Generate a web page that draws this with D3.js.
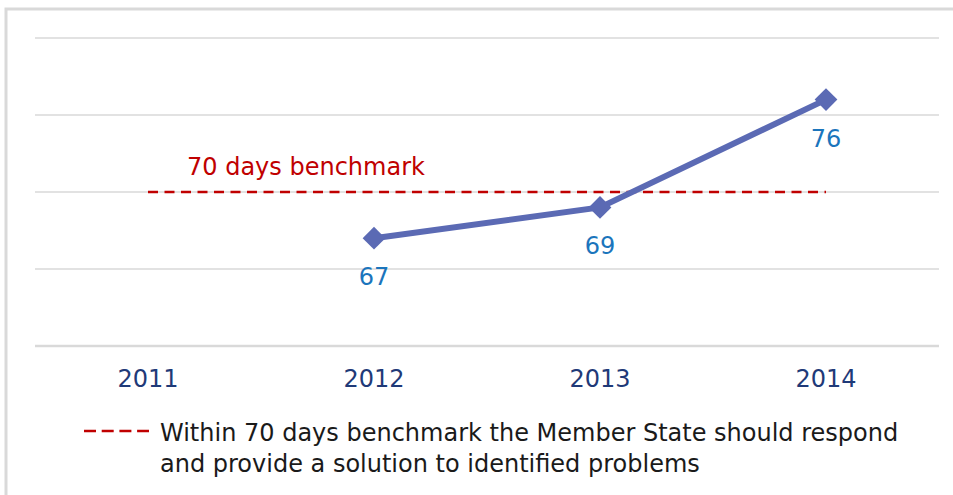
<!DOCTYPE html>
<html>
<head>
<meta charset="utf-8">
<script src="https://cdn.jsdelivr.net/npm/d3@7"></script>
<style>
  body { margin: 0; background: #fff; }
  svg { font-family: "DejaVu Sans", Verdana, sans-serif; }
</style>
</head>
<body>
<div id="chart"></div>
<script>
var years = ["2011", "2012", "2013", "2014"];
var values = [null, 67, 69, 76];
var benchmark = 70;
var benchmarkLabel = "70 days benchmark";
var legendLines = ["Within 70 days benchmark the Member State should respond",
                   "and provide a solution to identified problems"];
var gridTicks = [60, 65, 70, 75, 80];

var W = 953, H = 495;

var svg = d3.select("#chart").append("svg")
    .attr("width", W)
    .attr("height", H);

// outer frame (runs off right and bottom)
svg.append("rect")
    .attr("x", 6).attr("y", 9)
    .attr("width", W + 10).attr("height", H + 10)
    .attr("fill", "none")
    .attr("stroke", "#d9d9d9")
    .attr("stroke-width", 3);

var x = d3.scaleBand().domain(years).range([35, 939]);
var y = d3.scaleLinear().domain([60, 80]).range([346, 38]);
var cx = function(d) { return x(d) + x.bandwidth() / 2; };

// gridlines
svg.append("g").selectAll("line")
    .data(gridTicks)
  .enter().append("line")
    .attr("x1", 35).attr("x2", 939)
    .attr("y1", function(d) { return y(d); })
    .attr("y2", function(d) { return y(d); })
    .attr("stroke", "#d9d9d9")
    .attr("stroke-width", function(d) { return d === 60 ? 2.5 : 1.5; });

// x axis labels
svg.append("g")
    .attr("transform", "translate(0,346)")
    .call(d3.axisBottom(x).tickSize(0).tickPadding(24))
    .call(function(g) { g.select(".domain").remove(); })
    .selectAll("text")
    .attr("font-family", "DejaVu Sans, Verdana, sans-serif")
    .attr("font-size", 24)
    .attr("fill", "#1f3a78");

// benchmark line
svg.append("line")
    .attr("x1", cx(years[0])).attr("x2", cx(years[years.length - 1]))
    .attr("y1", y(benchmark)).attr("y2", y(benchmark))
    .attr("stroke", "#c00000")
    .attr("stroke-width", 2.5)
    .attr("stroke-dasharray", "10,6.5");

svg.append("text")
    .attr("x", 187)
    .attr("y", y(benchmark) - 17)
    .attr("font-size", 24)
    .attr("fill", "#c00000")
    .text(benchmarkLabel);

// series line
var pts = years.map(function(d, i) { return {year: d, value: values[i]}; })
    .filter(function(d) { return d.value != null; });

var line = d3.line()
    .x(function(d) { return cx(d.year); })
    .y(function(d) { return y(d.value); });

svg.append("path")
    .datum(pts)
    .attr("fill", "none")
    .attr("stroke", "#5b6ab4")
    .attr("stroke-width", 6)
    .attr("d", line);

svg.append("g").selectAll("path")
    .data(pts)
  .enter().append("path")
    .attr("transform", function(d) { return "translate(" + cx(d.year) + "," + y(d.value) + ")"; })
    .attr("d", d3.symbol().type(d3.symbolDiamond2).size(330))
    .attr("fill", "#5b6ab4");

svg.append("g").selectAll("text")
    .data(pts)
  .enter().append("text")
    .attr("x", function(d) { return cx(d.year); })
    .attr("y", function(d) { return y(d.value) + 47; })
    .attr("text-anchor", "middle")
    .attr("font-size", 24)
    .attr("fill", "#1b75bc")
    .text(function(d) { return d.value; });

// legend
svg.append("line")
    .attr("x1", 84).attr("x2", 149)
    .attr("y1", 431).attr("y2", 431)
    .attr("stroke", "#c00000")
    .attr("stroke-width", 2.5)
    .attr("stroke-dasharray", "12,5.7");

svg.append("g").selectAll("text")
    .data(legendLines)
  .enter().append("text")
    .attr("x", 160)
    .attr("y", function(d, i) { return 441 + i * 31; })
    .attr("font-size", 24)
    .attr("fill", "#1a1a1a")
    .text(function(d) { return d; });
</script>
</body>
</html>
